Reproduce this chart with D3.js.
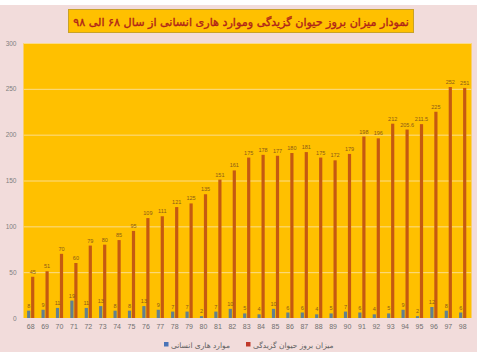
<!DOCTYPE html>
<html><head><meta charset="utf-8">
<script src="https://cdn.jsdelivr.net/npm/d3@7/dist/d3.min.js"></script>
<style>body{margin:0;background:#fff}svg{display:block}</style>
</head><body>
<svg id="c" width="477" height="357"></svg>
<script>
const years = ["68","69","70","71","72","73","74","75","76","77","78","79","80","81","82","83","84","85","86","87","88","89","90","91","92","93","94","95","96","97","98"];
const humanCases = [8,9,11,19,11,13,8,8,13,9,7,7,2,7,10,5,4,10,6,6,4,5,7,6,4,5,9,2,12,8,6];
const biteIncidence = [45,51,70,60,79,80,85,95,109,111,121,125,135,151,161,175,178,177,180,181,175,172,179,198,196,212,205.6,211.5,225,252,251];
const yTicks = [0,50,100,150,200,250,300];
const seriesNames = ["موارد هاری انسانی","میزان بروز حیوان گزیدگی"];
const seriesColors = ["#62808f","#c55a11"];
const legendColors = ["#4a74b8","#c0392b"];
const title = "نمودار میزان بروز حیوان گزیدگی وموارد هاری انسانی از سال ۶۸ الی ۹۸";

const svg = d3.select("#c");
svg.append("rect").attr("x",0).attr("y",5).attr("width",477).attr("height",347).attr("fill","#f2dcdb");

const plot = {l:23.5, r:471.5, t:43, b:318};
svg.append("rect").attr("x",plot.l).attr("y",plot.t).attr("width",plot.r-plot.l).attr("height",plot.b-plot.t).attr("fill","#ffc000");

const x = d3.scaleBand().domain(years).range([plot.l, plot.l+14.4*31]).paddingInner(0.5).paddingOuter(0.25);
const xs = d3.scaleBand().domain([0,1]).range([0, x.bandwidth()]).paddingInner(0.2);
const y = d3.scaleLinear().domain([0,300]).range([plot.b, plot.t]);

// gridlines
svg.append("g").selectAll("line").data(yTicks.filter(d=>d>0)).join("line")
  .attr("x1",plot.l).attr("x2",plot.r).attr("y1",d=>y(d)+0.5).attr("y2",d=>y(d)+0.5)
  .attr("stroke","#fbdc8a").attr("stroke-width",1);

// y axis
const ya = svg.append("g").attr("transform",`translate(${plot.l},0)`)
  .call(d3.axisLeft(y).tickValues(yTicks).tickSize(0).tickPadding(7));
ya.select(".domain").remove();
ya.selectAll("text").attr("font-family","Liberation Sans, Arial").attr("font-size",6.5).attr("fill","#808080");

// x axis
const xa = svg.append("g").attr("transform",`translate(0,${plot.b})`)
  .call(d3.axisBottom(x).tickSize(0).tickPadding(6));
xa.select(".domain").remove();
xa.selectAll("text").attr("font-family","Liberation Sans, Arial").attr("font-size",7).attr("fill","#707070");

const data = years.map((yr,i)=>({yr, vals:[humanCases[i], biteIncidence[i]]}));
const g = svg.append("g").selectAll("g").data(data).join("g").attr("transform",d=>`translate(${x(d.yr)},0)`);
g.selectAll("rect").data(d=>d.vals.map((v,k)=>({v,k}))).join("rect")
  .attr("x",d=>xs(d.k)).attr("width",xs.bandwidth())
  .attr("y",d=>y(d.v)).attr("height",d=>plot.b-y(d.v))
  .attr("fill",d=>seriesColors[d.k]);
g.selectAll("text").data(d=>d.vals.map((v,k)=>({v,k}))).join("text")
  .attr("x",d=>xs(d.k)+xs.bandwidth()/2).attr("y",d=>y(d.v)-3)
  .attr("text-anchor","middle").attr("font-family","Liberation Sans, Arial").attr("font-size",5.5)
  .attr("fill","#8a5a1a").text(d=>d.v);

// title
svg.append("rect").attr("x",68.5).attr("y",9.5).attr("width",345).attr("height",23)
  .attr("fill","#ffc000").attr("stroke","#c9a227").attr("stroke-width",1);
const tt = svg.append("text").attr("x",241).attr("y",26).attr("text-anchor","middle")
  .attr("direction","rtl").attr("font-family","DejaVu Sans, Noto Sans").attr("font-size",13.5)
  .attr("fill","#b0241a").attr("stroke","#b0241a").attr("stroke-width",0.35).text(title);
const tw = tt.node().getComputedTextLength();
if (tw > 336) tt.attr("font-size", 13.5*336/tw);

// legend
const leg = svg.append("g");
const items = [{i:0,x:164},{i:1,x:246}];
items.forEach(it=>{
  leg.append("rect").attr("x",it.x).attr("y",342).attr("width",4.5).attr("height",4.5).attr("fill",legendColors[it.i]);
  leg.append("text").attr("x",it.x+7).attr("y",347.5).attr("direction","rtl").attr("text-anchor","end")
    .attr("font-family","DejaVu Sans").attr("font-size",7.5).attr("fill","#606060").text(seriesNames[it.i]);
});
</script>
</body></html>
